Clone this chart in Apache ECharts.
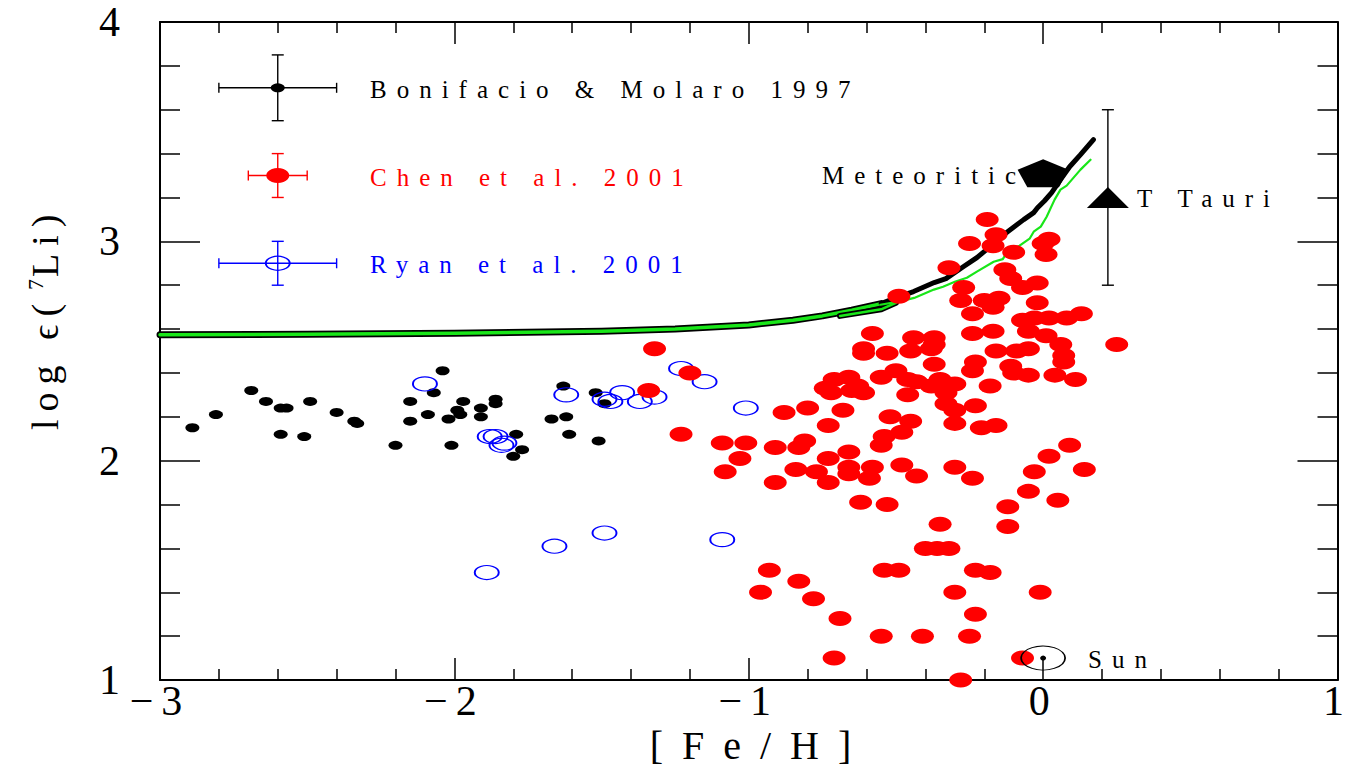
<!DOCTYPE html>
<html>
<head>
<meta charset="utf-8">
<title>log eps(7Li) vs [Fe/H]</title>
<script src="https://cdn.jsdelivr.net/npm/echarts@6/dist/echarts.min.js"></script>
<style>
html, body { margin: 0; padding: 0; background: #fff; }
#main { width: 1351px; height: 766px; }
/* wide spaced lettering like the original plot font */
#main text[style*="25px"] { letter-spacing: 10px; }
#main text[style*="42px"] { letter-spacing: 8px; }
#main text[style*="40px"] { letter-spacing: 19px; }
#main text[style*="38px"] { letter-spacing: 8px; }
</style>
</head>
<body>
<div id="main"></div>
<script>
// Bonifacio & Molaro 1997
var bonifacio = [
  [-2.89,2.15],[-2.81,2.21],[-2.69,2.32],[-2.64,2.27],[-2.59,2.24],[-2.57,2.24],[-2.59,2.12],
  [-2.49,2.27],[-2.51,2.11],[-2.40,2.22],[-2.34,2.18],[-2.33,2.17],[-2.20,2.07],[-2.15,2.27],
  [-2.15,2.18],[-2.04,2.41],[-2.07,2.31],[-2.09,2.21],[-1.97,2.27],[-1.99,2.23],[-1.98,2.21],
  [-2.02,2.19],[-2.01,2.07],[-1.91,2.24],[-1.91,2.20],[-1.86,2.28],[-1.86,2.26],[-1.79,2.12],
  [-1.77,2.05],[-1.80,2.02],[-1.63,2.34],[-1.67,2.19],[-1.62,2.20],[-1.61,2.12],[-1.52,2.31],
  [-1.51,2.09],[-1.49,2.26]
];
// Ryan et al. 2001
var ryan = [
  [-2.10,2.35],[-1.88,2.11],[-1.86,2.11],[-1.83,2.08],[-1.84,2.07],[-1.62,2.30],[-1.49,2.28],
  [-1.47,2.27],[-1.43,2.31],[-1.37,2.27],[-1.32,2.29],[-1.23,2.42],[-1.15,2.36],[-1.01,2.24],
  [-1.89,1.49],[-1.66,1.61],[-1.49,1.67],[-1.09,1.64]
];
// Chen et al. 2001
var chen = [
  [-1.32,2.51],[-1.20,2.40],[-1.34,2.32],[-1.23,2.12],[-1.09,2.08],[-1.01,2.08],[-1.03,2.01],[-1.08,1.95],
  [-0.91,2.06],[-0.88,2.22],[-0.80,2.24],[-0.68,2.23],[-0.73,2.16],[-0.81,2.09],[-0.83,2.06],[-0.73,2.01],
  [-0.66,2.04],[-0.84,1.96],[-0.77,1.95],[-0.66,1.97],[-0.66,1.94],[-0.73,1.90],[-0.91,1.90],[-0.58,1.97],
  [-0.59,1.92],[-0.48,1.98],[-0.43,1.93],[-0.30,1.97],[-0.24,1.92],[-0.62,1.81],[-0.53,1.80],[-0.35,1.71],
  [-0.40,1.60],[-0.36,1.60],[-0.32,1.60],
  [-0.58,2.58],[-0.61,2.51],[-0.61,2.49],[-0.53,2.49],[-0.44,2.56],[-0.37,2.56],[-0.37,2.53],[-0.45,2.50],
  [-0.38,2.51],[-0.74,2.33],[-0.71,2.37],[-0.66,2.38],[-0.63,2.34],[-0.61,2.31],[-0.72,2.31],[-0.65,2.32],
  [-0.55,2.38],[-0.50,2.41],[-0.46,2.37],[-0.43,2.36],[-0.38,2.34],[-0.35,2.37],[-0.30,2.35],[-0.37,2.44],
  [-0.46,2.30],[-0.33,2.31],[-0.33,2.26],[-0.30,2.23],[-0.23,2.25],[-0.52,2.20],[-0.45,2.18],[-0.48,2.13],
  [-0.54,2.11],[-0.55,2.07],[-0.30,2.17],[-0.21,2.15],[-0.16,2.16],
  [0.09,2.07],[0.02,2.02],[-0.03,1.95],[0.14,1.96],[-0.05,1.86],[0.05,1.82],[-0.12,1.79],[-0.12,1.70],
  [-0.93,1.50],[-0.83,1.45],[-0.96,1.40],[-0.78,1.37],[-0.69,1.28],[-0.55,1.20],[-0.41,1.20],[-0.25,1.20],
  [-0.71,1.10],[-0.54,1.50],[-0.49,1.50],[-0.23,1.50],[-0.18,1.49],[-0.30,1.40],[-0.01,1.40],[-0.23,1.30],
  [-0.07,1.10],[-0.28,1.00],
  [-0.19,3.10],[-0.16,3.03],[-0.25,2.99],[-0.17,2.98],[-0.10,2.95],[0.02,3.01],[0.00,2.99],[0.01,2.94],
  [-0.32,2.88],[-0.49,2.75],[-0.13,2.87],[-0.11,2.83],[-0.07,2.79],[-0.02,2.81],[-0.27,2.79],[-0.28,2.73],
  [-0.20,2.73],[-0.15,2.74],[-0.17,2.70],[-0.24,2.67],[-0.02,2.72],[-0.07,2.64],[-0.03,2.65],[0.02,2.65],
  [0.08,2.65],[0.13,2.67],[-0.05,2.59],[-0.24,2.58],[-0.17,2.59],[0.01,2.57],[0.06,2.53],[0.07,2.48],
  [0.07,2.45],[0.04,2.39],[0.11,2.37],[-0.16,2.50],[-0.09,2.50],[-0.05,2.51],[-0.23,2.45],[-0.24,2.41],
  [-0.11,2.43],[-0.10,2.40],[-0.05,2.39],[-0.18,2.34],[0.25,2.53]
];
// model curves
var bandCurve = [
  [-3.00,2.574],[-2.50,2.576],[-2.00,2.581],[-1.50,2.590],[-1.25,2.600],[-1.00,2.619],
  [-0.85,2.640],[-0.75,2.660],[-0.65,2.686],[-0.55,2.716]
];
var bandHook = [[-0.69,2.66],[-0.55,2.69],[-0.50,2.72]];
var blackCurve = [
  [-0.55,2.716],[-0.49,2.748],[-0.44,2.771],[-0.37,2.812],[-0.33,2.830],[-0.27,2.885],
  [-0.225,2.926],[-0.18,2.976],[-0.124,3.040],[-0.066,3.099],[-0.032,3.131],[-0.019,3.153],
  [0.005,3.185],[0.029,3.222],[0.059,3.281],[0.090,3.340],[0.127,3.395],[0.171,3.464]
];
var greenCurve = [
  [-0.553,2.711],[-0.486,2.726],[-0.438,2.742],[-0.371,2.780],[-0.340,2.793],[-0.300,2.816],
  [-0.259,2.834],[-0.225,2.862],[-0.168,2.907],[-0.137,2.919],[-0.124,2.947],[-0.080,2.980],
  [-0.046,3.012],[-0.032,3.044],[-0.008,3.067],[0.012,3.112],[0.039,3.190],[0.059,3.236],
  [0.080,3.254],[0.127,3.327],[0.161,3.372]
];
// single markers
var meteoritic = [[0.00,3.31]];
var tTauri = [[0.22,3.20]];
var sun = [[0.00,1.10]];
// key symbols: black, red, blue
var keyBlack = [[-2.60,3.70]];
var keyRed = [[-2.60,3.30]];
var keyBlue = [[-2.60,2.90]];
// error bars: x, y, x half-width, y half-width
var errBars = [[-2.60,3.70,0.20,0.15],[-2.60,3.30,0.10,0.10],[-2.60,2.90,0.20,0.10],[0.22,3.20,0,0.40]];
var errColors = ['#000','#ff0000','#0000ff','#000'];

var FONT = "'Liberation Serif', 'DejaVu Serif', serif";

var myChart = echarts.init(document.getElementById('main'), null, {renderer: 'svg'});

function xAxisOpt(pos, labels) {
  return {
    type: 'value', position: pos, min: -3, max: 1, interval: 1,
    axisLine: {show: true, onZero: false, lineStyle: {color: '#000', width: 2}},
    axisTick: {show: true, inside: true, length: 22, lineStyle: {color: '#000', width: 1.5}},
    minorTick: {show: true, splitNumber: 5, length: 11, lineStyle: {color: '#000', width: 1.5}},
    splitLine: {show: false},
    axisLabel: {
      show: labels, color: '#000', fontSize: 42, lineHeight: 30, fontFamily: FONT, margin: 6,
      formatter: function (v) { return v < 0 ? '\u2212' + (-v) : String(v); }
    }
  };
}
function yAxisOpt(pos, labels) {
  return {
    type: 'value', position: pos, min: 1, max: 4, interval: 1,
    axisLine: {show: true, onZero: false, lineStyle: {color: '#000', width: 2}},
    axisTick: {show: true, inside: true, length: 40, lineStyle: {color: '#000', width: 1.5}},
    minorTick: {show: true, splitNumber: 5, length: 20, lineStyle: {color: '#000', width: 1.5}},
    splitLine: {show: false},
    axisLabel: {show: labels, color: '#000', fontSize: 42, lineHeight: 30, fontFamily: FONT, margin: 32}
  };
}

function dots(data, color, size) {
  return {type: 'scatter', data: data, symbol: 'circle', symbolSize: size,
    itemStyle: {color: color, opacity: 1}, z: 4};
}
function rings(data) {
  return {type: 'scatter', data: data, symbol: 'circle', symbolSize: [24, 14],
    itemStyle: {color: 'rgba(0,0,0,0)', borderColor: '#0000ff', borderWidth: 1.5, opacity: 1}, z: 4};
}
function curve(data, color, width, z) {
  return {type: 'line', data: data, symbol: 'none', z: z,
    lineStyle: {color: color, width: width, cap: 'round', join: 'round'}};
}

function renderErr(params, api) {
  var x = api.value(0), y = api.value(1), ex = api.value(2), ey = api.value(3);
  var c = api.coord([x, y]);
  var st = {stroke: errColors[params.dataIndex], lineWidth: 1.4};
  var kids = [];
  if (ex > 0) {
    var l = api.coord([x - ex, y])[0], r = api.coord([x + ex, y])[0];
    kids.push({type: 'line', shape: {x1: l, y1: c[1], x2: r, y2: c[1]}, style: st});
    kids.push({type: 'line', shape: {x1: l, y1: c[1] - 5, x2: l, y2: c[1] + 5}, style: st});
    kids.push({type: 'line', shape: {x1: r, y1: c[1] - 5, x2: r, y2: c[1] + 5}, style: st});
  }
  if (ey > 0) {
    var t = api.coord([x, y + ey])[1], b = api.coord([x, y - ey])[1];
    kids.push({type: 'line', shape: {x1: c[0], y1: t, x2: c[0], y2: b}, style: st});
    kids.push({type: 'line', shape: {x1: c[0] - 6, y1: t, x2: c[0] + 6, y2: t}, style: st});
    kids.push({type: 'line', shape: {x1: c[0] - 6, y1: b, x2: c[0] + 6, y2: b}, style: st});
  }
  return {type: 'group', children: kids};
}

function label(text, x, y, color) {
  return {type: 'text', x: x, y: y, z: 10,
    style: {text: text, fill: color, fontSize: 25, fontFamily: FONT, verticalAlign: 'middle'}};
}
// pieces of the rotated y title, read bottom to top
function yTitle(text, x, y, size) {
  return {type: 'text', x: x, y: y, rotation: Math.PI / 2, z: 10,
    style: {text: text, fill: '#000', fontSize: size, fontFamily: FONT,
      align: 'left', verticalAlign: 'middle'}};
}

var option = {
  animation: false,
  backgroundColor: '#fff',
  grid: {left: 160, right: 9, top: 22, bottom: 86},
  xAxis: [xAxisOpt('bottom', true), xAxisOpt('top', false)],
  yAxis: [yAxisOpt('left', true), yAxisOpt('right', false)],
  series: [
    curve(bandCurve, '#000', 7, 2),
    curve(bandCurve, '#19e619', 3.5, 2),
    curve(bandHook, '#000', 6, 2),
    curve(bandHook, '#19e619', 2.5, 2),
    curve(blackCurve, '#000', 5, 3),
    curve(greenCurve, '#19e619', 2.2, 3),
    dots(bonifacio, '#000', [14, 9]),
    rings(ryan),
    dots(chen, '#ff0000', [23, 15]),
    dots(keyBlack, '#000', [14, 9]),
    dots(keyRed, '#ff0000', [23, 15]),
    rings(keyBlue),
    {type: 'custom', data: errBars, encode: {x: 0, y: 1}, renderItem: renderErr, z: 5},
    {type: 'scatter', data: meteoritic, symbol: 'path://M50,0 L100,37 L81,100 L19,100 L0,37 Z',
      symbolSize: [51, 28], itemStyle: {color: '#000', opacity: 1}, z: 6},
    {type: 'scatter', data: tTauri, symbol: 'triangle', symbolSize: [42, 21],
      itemStyle: {color: '#000', opacity: 1}, z: 6},
    {type: 'scatter', data: sun, symbol: 'circle', symbolSize: [44, 24],
      itemStyle: {color: 'rgba(0,0,0,0)', borderColor: '#000', borderWidth: 1.3, opacity: 1}, z: 6},
    {type: 'scatter', data: sun, symbol: 'circle', symbolSize: [6, 5],
      itemStyle: {color: '#000', opacity: 1}, z: 6}
  ],
  graphic: [
    label('Bonifacio & Molaro 1997', 370, 89, '#000'),
    label('Chen et al. 2001', 370, 177, '#ff0000'),
    label('Ryan et al. 2001', 370, 264, '#0000ff'),
    label('Meteoritic', 822, 175, '#000'),
    label('T Tauri', 1137, 198, '#000'),
    label('Sun', 1088, 659, '#000'),
    {type: 'text', x: 760, y: 745, z: 10,
      style: {text: '[Fe/H]', fill: '#000', fontSize: 40, lineHeight: 36, fontFamily: FONT,
        align: 'center', verticalAlign: 'middle'}},
    yTitle('log \u03f5(', 45, 430, 38),
    yTitle('7', 35, 290, 22),
    yTitle('Li)', 45, 277, 38)
  ]
};
myChart.setOption(option);
</script>
</body>
</html>
